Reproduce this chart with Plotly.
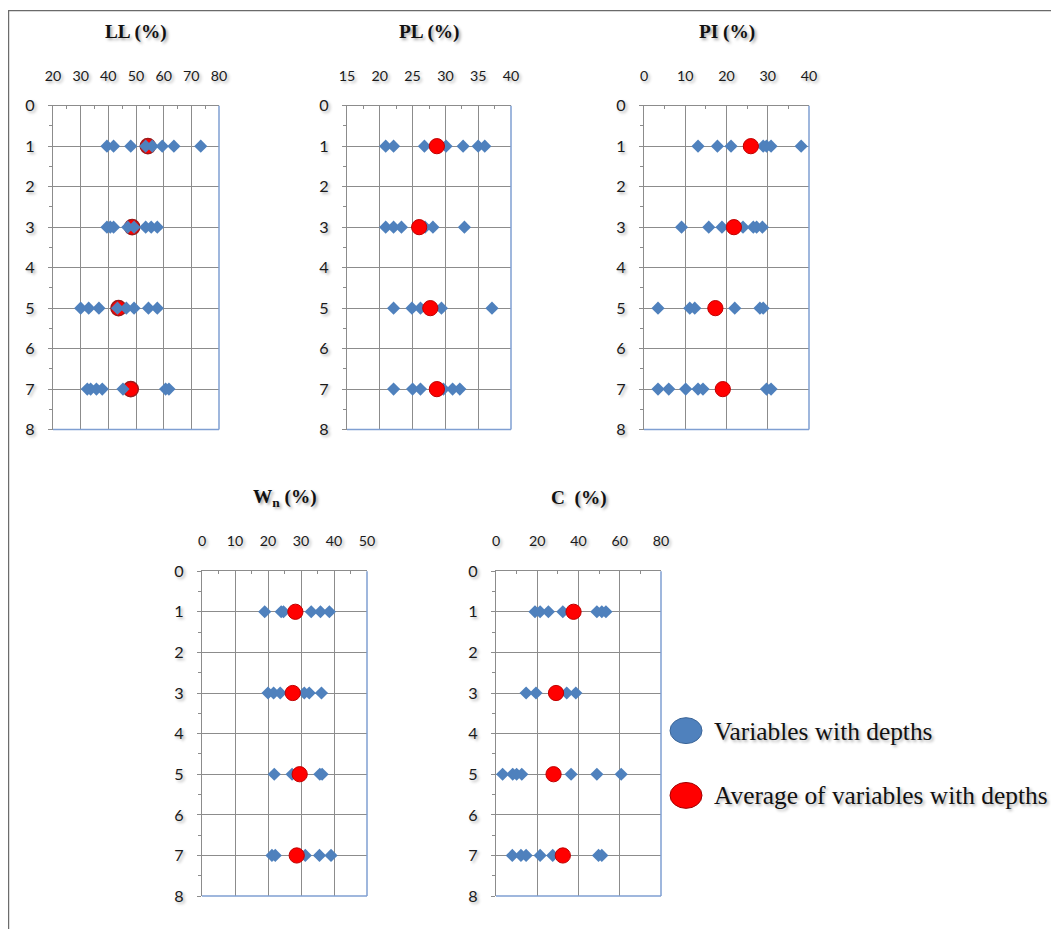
import plotly.graph_objects as go

# ---------------- data ----------------
depths = [1, 3, 5, 7]

ll_1 = [39.5, 41.9, 48.1, 53.5, 55.9, 59.5, 63.7, 73.4]
ll_3 = [39.5, 40.7, 41.9, 47.0, 49.3, 53.5, 55.5, 57.7]
ll_5 = [30.0, 32.9, 36.6, 43.3, 46.5, 49.3, 54.5, 57.7]
ll_7 = [32.4, 33.6, 35.7, 37.8, 45.3, 60.7, 61.9]
ll_mean = [54.3, 48.6, 43.7, 48.1]

pl_1 = [20.9, 22.1, 26.8, 28.5, 30.1, 32.7, 35.0, 36.0]
pl_3 = [20.9, 22.1, 23.3, 26.9, 28.1, 32.9]
pl_5 = [22.1, 24.9, 26.2, 29.4, 37.1]
pl_7 = [22.1, 25.0, 26.2, 29.7, 31.1, 32.2]
pl_mean = [28.7, 26.0, 27.7, 28.7]

pi_1 = [13.1, 17.8, 21.1, 28.9, 29.7, 30.8, 38.1]
pi_3 = [9.1, 15.7, 18.9, 24.0, 26.5, 27.3, 28.7]
pi_5 = [3.4, 11.1, 12.3, 22.0, 28.1, 28.9]
pi_7 = [3.4, 6.0, 10.1, 13.1, 14.3, 29.7, 30.8]
pi_mean = [25.9, 21.8, 17.3, 19.1]

wn_1 = [19.0, 24.0, 24.7, 33.1, 35.9, 38.6]
wn_3 = [20.0, 21.7, 23.7, 31.0, 32.5, 36.2]
wn_5 = [21.9, 27.3, 35.7, 36.4]
wn_7 = [21.2, 22.2, 31.3, 35.6, 39.1]
wn_mean = [28.3, 27.5, 29.6, 28.7]

c_1 = [18.9, 21.4, 25.4, 32.4, 48.9, 51.3, 53.3]
c_3 = [14.6, 19.4, 34.3, 38.7]
c_5 = [3.2, 8.1, 10.0, 12.5, 36.4, 48.9, 60.7]
c_7 = [7.9, 12.1, 14.6, 21.4, 27.5, 49.7, 51.3]
c_mean = [37.6, 29.1, 27.9, 32.4]

titles = ["LL (%)", "PL (%)", "PI (%)", "W<sub>n</sub> (%)", "C  (%)"]
x_ranges = [[20, 80], [15, 40], [0, 40], [0, 50], [0, 80]]
x_dticks = [10, 5, 10, 10, 20]
legend_names = ["Variables with depths", "Average of variables with depths"]

values = [
    [ll_1, ll_3, ll_5, ll_7],
    [pl_1, pl_3, pl_5, pl_7],
    [pi_1, pi_3, pi_5, pi_7],
    [wn_1, wn_3, wn_5, wn_7],
    [c_1, c_3, c_5, c_7],
]
means = [ll_mean, pl_mean, pi_mean, wn_mean, c_mean]

# ---------------- layout geometry ----------------
W, H = 1051, 929
# the photographed page comes out with an 8px white border and slightly shrunk;
# positions below are given in picture pixels and mapped back to figure paper units
PAD = 8
SX = (W - 2 * PAD) / W
SY = (H - 2 * PAD) / H
FS = 1 / SX  # font / marker compensation

boxes = [  # left, right, top, bottom in picture pixels
    (53, 219, 104, 429),
    (347, 511, 104, 429),
    (644, 809, 104, 429),
    (202, 367, 571, 897),
    (496, 661, 571, 897),
]

def px(x):
    return (x - PAD) / (W - 2 * PAD)

def py(y):
    return 1 - (y - PAD) / (H - 2 * PAD) * (H - 2 * PAD) / H / SY

BLUE = "#4f81bd"
RED = "#ff0000"
GRID = "#8c8c8c"
FRAME_BLUE = "#7f9fd2"
tick_font = dict(family="Lato, Open Sans, sans-serif", size=14 * FS, color="#1a1a1a",
                 shadow="2px 2px 3px rgba(0,0,0,0.30)")
ytick_font = dict(family="Lato, Open Sans, sans-serif", size=16 * FS, color="#1a1a1a",
                  shadow="2px 2px 3px rgba(0,0,0,0.30)")

fig = go.Figure()
layout = dict(
    width=W, height=H,
    margin=dict(l=0, r=0, t=0, b=0),
    paper_bgcolor="white", plot_bgcolor="white",
    showlegend=False,
)
shapes = []
annotations = []

for i in range(5):
    xa = "x" if i == 0 else f"x{i+1}"
    ya = "y" if i == 0 else f"y{i+1}"
    l, r, t, b = boxes[i]

    blue_x = []
    blue_y = []
    for d, vals in zip(depths, values[i]):
        blue_x += vals
        blue_y += [d] * len(vals)

    blue_trace = go.Scatter(
        x=blue_x, y=blue_y, mode="markers", xaxis=xa, yaxis=ya,
        name=legend_names[0],
        marker=dict(symbol="diamond", size=10 * FS, color=BLUE, line=dict(width=0)),
        hoverinfo="x+y",
    )
    red_trace = go.Scatter(
        x=means[i], y=depths, mode="markers", xaxis=xa, yaxis=ya,
        name=legend_names[1],
        marker=dict(symbol="circle", size=15 * FS, color=RED,
                    line=dict(width=1.5 if i == 0 else 1, color="#9e1b1b" if i == 0 else "#c00000")),
        hoverinfo="x+y",
    )
    if i == 0:
        fig.add_trace(red_trace)
        fig.add_trace(blue_trace)
    else:
        fig.add_trace(blue_trace)
        fig.add_trace(red_trace)

    dt = x_dticks[i]
    layout["xaxis" if i == 0 else f"xaxis{i+1}"] = dict(
        domain=[px(l), px(r)], anchor=ya, side="top",
        range=x_ranges[i], tick0=x_ranges[i][0], dtick=dt,
        showgrid=True, gridcolor=GRID, gridwidth=1,
        showline=True, linecolor=GRID, linewidth=1,
        ticks="inside", ticklen=5, tickcolor=GRID,
        minor=dict(ticks="inside", ticklen=3, tickcolor=GRID, dtick=dt / 2, showgrid=False),
        tickfont=tick_font, ticklabelstandoff=18,
        zeroline=False, fixedrange=True,
    )
    layout["yaxis" if i == 0 else f"yaxis{i+1}"] = dict(
        domain=[py(b), py(t)], anchor=xa,
        range=[8, 0], tick0=0, dtick=1,
        showgrid=True, gridcolor=GRID, gridwidth=1,
        showline=True, linecolor=GRID, linewidth=1,
        ticks="outside", ticklen=4, tickcolor=GRID,
        minor=dict(ticks="outside", ticklen=3, tickcolor=GRID, dtick=0.5, showgrid=False),
        tickfont=ytick_font, ticklabelstandoff=10,
        zeroline=False, fixedrange=True,
    )
    # blue right and bottom frame lines
    shapes.append(dict(type="line", xref="paper", yref="paper",
                       x0=px(r), x1=px(r), y0=py(b), y1=py(t),
                       line=dict(color=FRAME_BLUE, width=1.5)))
    shapes.append(dict(type="line", xref="paper", yref="paper",
                       x0=px(l), x1=px(r), y0=py(b), y1=py(b),
                       line=dict(color=FRAME_BLUE, width=1.5)))
    # title
    title_y = 30 if i < 3 else 498
    annotations.append(dict(
        text="<b>" + titles[i] + "</b>", xref="paper", yref="paper",
        x=px((l + r) / 2), y=py(title_y), showarrow=False,
        xanchor="center", yanchor="middle",
        font=dict(family="Liberation Serif, Times New Roman, serif", size=19 * FS, color="#111",
                  shadow="2px 2px 3px rgba(0,0,0,0.35)"),
    ))

# outer frame (top and left border of the original picture)
shapes.append(dict(type="rect", xref="paper", yref="paper",
                   x0=0.0006, x1=1.05, y0=-0.05, y1=0.9994,
                   line=dict(color="#6a6a6a", width=1.2), layer="below"))

# legend (manual)
legend_items = [(731, BLUE, "#3b6598"), (796, RED, "#a00000")]
for (cy, fill, edge), name in zip(legend_items, legend_names):
    shapes.append(dict(type="circle", xref="paper", yref="paper",
                       x0=px(670), x1=px(702), y0=py(cy + 13), y1=py(cy - 13),
                       fillcolor=fill, line=dict(color=edge, width=1)))
    annotations.append(dict(
        text=name, xref="paper", yref="paper", x=px(712), y=py(cy),
        xanchor="left", yanchor="middle", showarrow=False,
        font=dict(family="Liberation Serif, Times New Roman, serif", size=25 * FS, color="#111",
                  shadow="2px 2px 3px rgba(0,0,0,0.30)"),
    ))

layout["shapes"] = shapes
layout["annotations"] = annotations
fig.update_layout(**layout)

fig.write_html(
    "out.html",
    config={"displayModeBar": False},
    post_script="document.body.style.margin='0';document.body.style.overflow='hidden';",
)
